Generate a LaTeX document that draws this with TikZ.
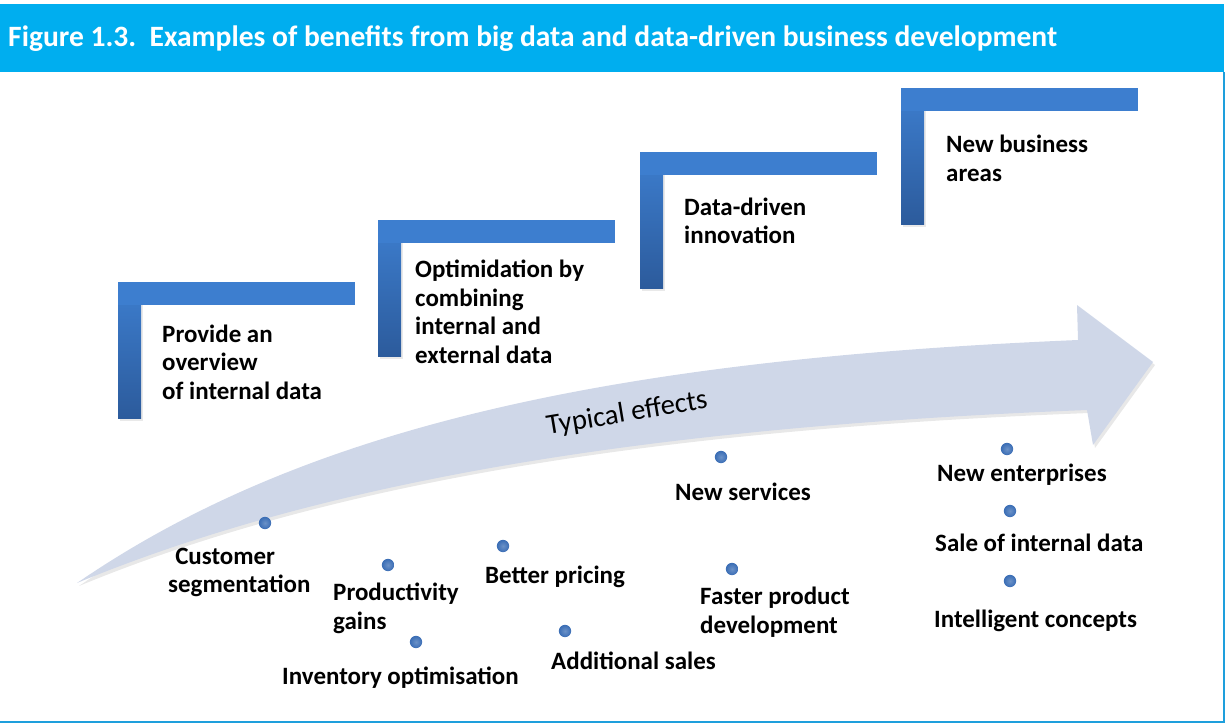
\documentclass[tikz,border=0pt]{standalone}
\usepackage{fontspec}
\setmainfont{Carlito}
\usetikzlibrary{positioning}
\definecolor{titleblue}{HTML}{00AEEF}
\definecolor{frameblue}{HTML}{1E9FDC}
\definecolor{stepblue}{HTML}{3D7ECF}
\definecolor{stepdark}{HTML}{2C5B9C}
\definecolor{arrowgrey}{HTML}{CFD7E8}
\definecolor{dotblue}{HTML}{3A6DB5}

\begin{document}
\begin{tikzpicture}[x=0.03cm, y=-0.03cm,
	steptext/.style={anchor=west, align=left, inner sep=0pt, font=\fontsize{21.3}{24.4}\selectfont\bfseries},
	effect/.style={anchor=west, align=left, inner sep=0pt, font=\fontsize{21.3}{24.4}\selectfont\bfseries},
	dot/.style={circle, inner sep=0pt, minimum size=0.37cm, inner color=dotblue!75!white, outer color=dotblue}]
	\useasboundingbox (0,0) rectangle (1226,724);
	%title bar and frame
	\fill[titleblue] (0,4) rectangle (1224,72);
	\node[anchor=west, inner sep=0pt, text=white, font=\fontsize{25.2}{30}\selectfont\bfseries] (title) at (8,39)
		{Figure 1.3.\ \ Examples of benefits from big data and data-driven business development};
	\draw[frameblue, line width=1.7pt] (0,722) -- (1224,722) -- (1224,72);

	%steps
	\foreach \sx/\sy in {118/282, 378/220, 640/152, 901/88}{
		\fill[black!25, opacity=0.35] (\sx+2,\sy+3) rectangle ++(23,136);
		\shade[top color=stepblue, bottom color=stepdark] (\sx,\sy) rectangle ++(23,136);
		\fill[stepblue] (\sx,\sy) rectangle ++(237,23);
	}
	\node[steptext] (s1) at (162,362) {Provide an\\overview\\of internal data};
	\node[steptext] (s2) at (415,312) {Optimidation by\\combining\\internal and\\external data};
	\node[steptext] (s3) at (684,221) {Data-driven\\innovation};
	\node[steptext] (s4) at (946,158.5) {New business\\areas};

	%curved arrow
	\fill[black!30, opacity=0.3] (79,586) .. controls (302,433) and (602,363) .. (1080,343) -- (1079,308)
		-- (1155,365) -- (1095,448) -- (1089,413) .. controls (702,428) and (352,473) .. (79,586) -- cycle;
	\fill[arrowgrey] (77,583) .. controls (300,430) and (600,360) .. (1078,340) -- (1077,305)
		-- (1153,362) -- (1093,445) -- (1087,410) .. controls (700,425) and (350,470) .. (77,583) -- cycle;
	\node[rotate=9.5, font=\fontsize{24.4}{28}\selectfont] (typ) at (627,414) {Typical effects};

	%effects
	\node[dot] (d1) at (265,523) {};
	\node[dot] (d2) at (388,565) {};
	\node[dot] (d3) at (503,546) {};
	\node[dot] (d4) at (416,642) {};
	\node[dot] (d5) at (565,631) {};
	\node[dot] (d6) at (721,457) {};
	\node[dot] (d7) at (732,569) {};
	\node[dot] (d8) at (1007,449) {};
	\node[dot] (d9) at (1010,511) {};
	\node[dot] (d10) at (1010,581) {};
	\node[effect] (e1) at (168,572.5) {\hspace*{6pt}Customer\\segmentation};
	\node[effect] (e2) at (333,608.5) {Productivity\\gains};
	\node[effect] (e3) at (485,577) {Better pricing};
	\node[effect] (e4) at (282,678) {Inventory optimisation};
	\node[effect] (e5) at (551,661) {Additional sales};
	\node[effect] (e6) at (675,492) {New services};
	\node[effect] (e7) at (700,612) {Faster product\\development};
	\node[effect] (e8) at (937,475) {New enterprises};
	\node[effect] (e9) at (935,543) {Sale of internal data};
	\node[effect] (e10) at (934,621) {Intelligent concepts};
\end{tikzpicture}
\end{document}
